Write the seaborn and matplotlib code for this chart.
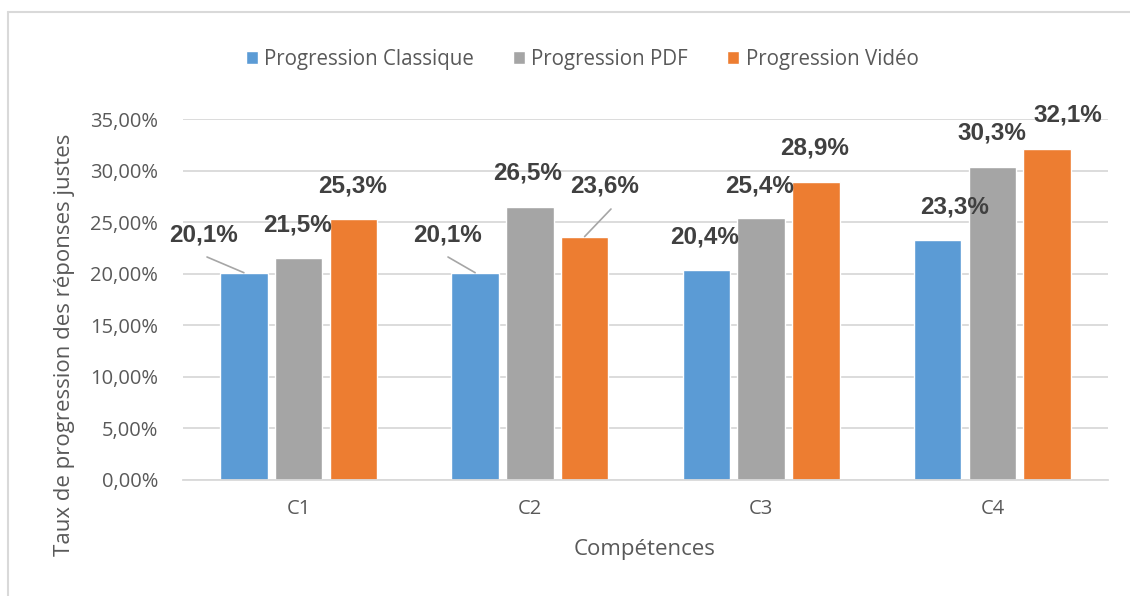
import matplotlib
matplotlib.use("Agg")
import matplotlib.pyplot as plt
from matplotlib.lines import Line2D
from matplotlib.ticker import FuncFormatter
import seaborn as sns
import pandas as pd

categories = ["C1", "C2", "C3", "C4"]
series = ["Progression Classique", "Progression PDF", "Progression Vidéo"]
classique = [20.1, 20.1, 20.4, 23.3]
pdf = [21.5, 26.5, 25.4, 30.3]
video = [25.3, 23.6, 28.9, 32.1]
colors = ["#5B9BD5", "#A5A5A5", "#ED7D31"]

rows = []
for s, vals in zip(series, [classique, pdf, video]):
    for c, v in zip(categories, vals):
        rows.append({"Compétences": c, "Série": s, "val": v / 100})
df = pd.DataFrame(rows)

sns.set_theme(style="white")
plt.rcParams["font.family"] = ["Open Sans", "DejaVu Sans"]

W, H = 1130, 596
fig = plt.figure(figsize=(W / 100, H / 100), dpi=100)
ax = fig.add_axes([183 / W, 1 - 480 / H, (1108 - 183) / W, (480 - 119) / H])

sns.barplot(data=df, x="Compétences", y="val", hue="Série", palette=colors,
            width=0.71, gap=0.13, ax=ax, legend=True, saturation=1)

ax.set_ylim(0, 0.35)
ax.set_yticks([i * 0.05 for i in range(8)])
ax.yaxis.set_major_formatter(FuncFormatter(lambda v, p: f"{v*100:.2f}%".replace(".", ",")))
ax.grid(axis="y", color="#D9D9D9", linewidth=1.3)
ax.set_axisbelow(True)
for s in ["top", "right", "left"]:
    ax.spines[s].set_visible(False)
ax.spines["bottom"].set_color("#D9D9D9")
ax.spines["bottom"].set_linewidth(1.3)
ax.tick_params(axis="y", length=0, pad=18, labelsize=14.5, labelcolor="#595959")
ax.tick_params(axis="x", length=0, pad=14, labelsize=14.5, labelcolor="#595959")
ax.set_xlabel("")
ax.set_ylabel("")
fig.text(645 / W, 1 - 550 / H, "Compétences", ha="center", va="center",
         fontsize=16, color="#595959")
fig.text(65 / W, 1 - 345 / H, "Taux de progression des réponses justes", ha="center",
         va="center", rotation=90, fontsize=16, color="#595959")

# legend
handles, labels = ax.get_legend_handles_labels()
ax.legend(handles, labels, loc="center", bbox_to_anchor=(582 / W, 1 - 59 / H),
          bbox_transform=fig.transFigure, ncol=3, frameon=False, fontsize=14.8,
          handlelength=0.6, handleheight=0.6, handletextpad=0.3, columnspacing=1.9,
          labelcolor="#595959")

# data labels (positions in pixels, placed as in the reference)
label_pos = {
    (0, 0): (204, 235), (1, 0): (297, 225), (2, 0): (353, 186),
    (0, 1): (447, 235), (1, 1): (528, 173), (2, 1): (605, 186),
    (0, 2): (705, 237), (1, 2): (760, 186), (2, 2): (815, 148),
    (0, 3): (955, 207), (1, 3): (992, 133), (2, 3): (1068, 115),
}
all_vals = [classique, pdf, video]
for (si, ci), (px, py) in label_pos.items():
    txt = f"{all_vals[si][ci]:.1f}%".replace(".", ",")
    fig.text(px / W, 1 - py / H, txt, ha="center", va="center",
             fontsize=17.5, fontweight="bold", color="#404040", family="Liberation Sans")

# leader lines
bars = {}
for si, cont in enumerate(ax.containers):
    for ci, b in enumerate(cont):
        bars[(si, ci)] = b
leaders = [((0, 0), (207, 257)), ((0, 1), (448, 257)), ((2, 1), (611, 209))]
for key, (lx, ly) in leaders:
    b = bars[key]
    bx = b.get_x() + b.get_width() / 2
    by = b.get_height()
    disp = ax.transData.transform((bx, by))
    fx, fy = fig.transFigure.inverted().transform(disp)
    fig.add_artist(Line2D([lx / W, fx], [1 - ly / H, fy], color="#A6A6A6", linewidth=1.2))

# chart border
fig.add_artist(Line2D([8 / W, 1], [1 - 11.5 / H, 1 - 11.5 / H], color="#D9D9D9", linewidth=1.5))
fig.add_artist(Line2D([8 / W, 8 / W], [0, 1 - 11.5 / H], color="#D9D9D9", linewidth=1.5))

fig.savefig("out.png", dpi=100)
